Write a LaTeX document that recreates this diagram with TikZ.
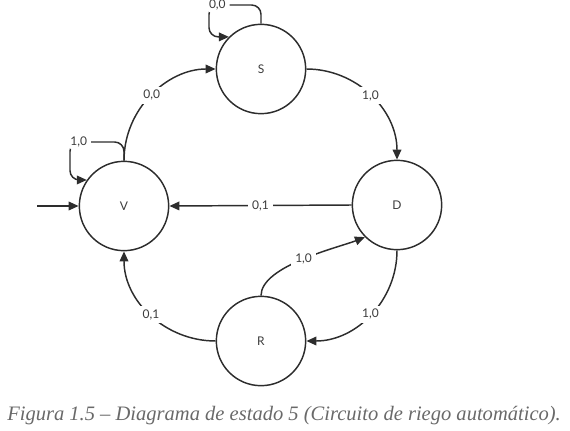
\documentclass[tikz,border=0pt]{standalone}
\usepackage{fontspec}
\setmainfont{Liberation Serif}
\newfontfamily\lato{Lato}
\usetikzlibrary{arrows.meta}

\definecolor{linegray}{RGB}{45,45,45}
\definecolor{textgray}{RGB}{60,60,60}
\definecolor{capgray}{RGB}{105,105,105}

\tikzset{
	state/.style={circle, draw=linegray, line width=1.1pt, minimum size=67pt, inner sep=0pt, text=textgray, font=\lato\fontsize{9}{10}\selectfont},
	trans/.style={draw=linegray, line width=1.1pt, -{Triangle[length=7.5pt,width=6.5pt]}},
	lbl/.style={fill=white, inner xsep=3pt, inner ysep=2.5pt, text=textgray, font=\lato\fontsize{9}{10}\selectfont},
}

\begin{document}
\begin{tikzpicture}[x=0.75pt,y=0.75pt,yscale=-1,xscale=1]
		\useasboundingbox (0,0) rectangle (570,431);
		
		%Shape: Circle [V]
		\node[state] (V) at (124,206) {V};
		%Shape: Circle [S]
		\node[state] (S) at (261,69) {S};
		%Shape: Circle [D]
		\node[state] (D) at (397,205) {D};
		%Shape: Circle [R]
		\node[state] (R) at (261,341) {R};
		\coordinate (start) at (37,206);
		
		%Straight Lines
		\draw[trans] (start) -- (V.west);
		\draw[trans] (D.west) -- node[lbl] {0,1} (V.east);
		%Curves
		\draw[trans] (V.north) .. controls +(0,-52) and +(-48,0) .. node[lbl] {0,0} (S.west);
		\draw[trans] (S.east) .. controls +(50,0) and +(0,-50) .. node[lbl] {1,0} (D.north);
		\draw[trans] (D.south) .. controls +(0,50) and +(50,0) .. node[lbl] {1,0} (R.east);
		\draw[trans] (R.west) .. controls +(-50,0) and +(0,50) .. node[lbl] {0,1} (V.south);
		\draw[trans] (R.north) .. controls +(0,-30) and +(-25,10) .. node[lbl] {1,0} (D.225);
		%Self loops
		\draw[trans, rounded corners=7pt] (V.north) |- node[lbl, pos=0.92] {1,0} (70,142) |- (V.145);
		\draw[trans, rounded corners=7pt] (S.north) |- node[lbl, pos=0.92] {0,0} (209,5) |- (S.135);
		
		% Text Node
		\node[anchor=base west, inner sep=0pt, text=capgray, font=\itshape\fontsize{15.4}{18}\selectfont] (caption) at (7,420) {Figura 1.5 – Diagrama de estado 5 (Circuito de riego automático).};
		
\end{tikzpicture}
\end{document}
